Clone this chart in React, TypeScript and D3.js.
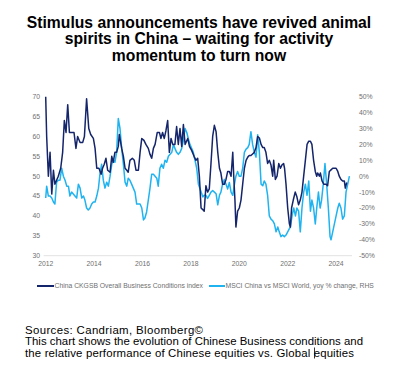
import React from "react";
import * as d3 from "d3";

const titleLines = [
  "Stimulus announcements have revived animal",
  "spirits in China – waiting for activity",
  "momentum to turn now",
];
const footerLines = [
  "Sources: Candriam, Bloomberg©",
  "This chart shows the evolution of Chinese Business conditions and",
  "the relative performance of Chinese equities vs. Global equities",
];
const footerWidths = [178, 338, 329];
const legendLabels = [
  "China CKGSB Overall Business Conditions index",
  "MSCI China vs MSCI World, yoy % change, RHS",
];
const xTickYears = [2012, 2014, 2016, 2018, 2020, 2022, 2024];
const leftTicks = [30, 35, 40, 45, 50, 55, 60, 65, 70];
const rightTicks = [-50, -40, -30, -20, -10, 0, 10, 20, 30, 40, 50];

// China CKGSB index (LHS)
const ckgsbYears = [
  2012.0, 2012.04, 2012.11, 2012.18, 2012.25, 2012.32, 2012.38, 2012.45, 2012.52, 2012.62, 2012.7, 2012.77,
  2012.84, 2012.91, 2012.98, 2013.07, 2013.17, 2013.25, 2013.32, 2013.42, 2013.53, 2013.6, 2013.69, 2013.78,
  2013.86, 2013.97, 2014.04, 2014.11, 2014.2, 2014.29, 2014.35, 2014.42, 2014.49, 2014.56, 2014.66, 2014.73,
  2014.79, 2014.86, 2014.93, 2015.0, 2015.04, 2015.14, 2015.21, 2015.28, 2015.35, 2015.41, 2015.48, 2015.58,
  2015.66, 2015.73, 2015.83, 2015.9, 2015.97, 2016.06, 2016.14, 2016.24, 2016.31, 2016.38, 2016.45, 2016.52,
  2016.61, 2016.7, 2016.76, 2016.83, 2016.9, 2016.97, 2017.04, 2017.11, 2017.18, 2017.25, 2017.34, 2017.41,
  2017.48, 2017.55, 2017.62, 2017.69, 2017.76, 2017.87, 2017.94, 2018.03, 2018.13, 2018.21, 2018.28, 2018.35,
  2018.42, 2018.49, 2018.55, 2018.62, 2018.69, 2018.76, 2018.83, 2018.9, 2018.97, 2019.04, 2019.11, 2019.18,
  2019.24, 2019.31, 2019.38, 2019.45, 2019.52, 2019.59, 2019.66, 2019.73, 2019.77, 2019.82, 2019.86, 2019.93,
  2020.0, 2020.07, 2020.14, 2020.21, 2020.28, 2020.35, 2020.41, 2020.48, 2020.55, 2020.62, 2020.69, 2020.76,
  2020.83, 2020.9, 2020.97, 2021.03, 2021.1, 2021.17, 2021.24, 2021.31, 2021.38, 2021.42, 2021.49, 2021.56,
  2021.63, 2021.7, 2021.76, 2021.83, 2021.87, 2021.93, 2022.0, 2022.07, 2022.11, 2022.16, 2022.23, 2022.31,
  2022.38, 2022.45, 2022.52, 2022.59, 2022.66, 2022.73, 2022.8, 2022.87, 2022.94, 2023.0, 2023.07, 2023.14,
  2023.2, 2023.24, 2023.31, 2023.35, 2023.42, 2023.49, 2023.58, 2023.65, 2023.72, 2023.79, 2023.86, 2023.93,
  2024.0, 2024.07, 2024.13, 2024.2, 2024.27, 2024.34, 2024.38, 2024.44,
];
const ckgsbValues = [
  70, 60, 50, 56, 45.5, 51.5, 48, 49, 50, 52, 56, 64,
  61, 68, 61, 61, 61, 57, 60, 58.5, 58.5, 60, 69.5, 62,
  60.5, 59.5, 57, 52, 52, 50.5, 52, 53, 54.5, 51.5, 51, 55,
  53.5, 56, 56, 57.5, 60.5, 57, 55, 52, 51.5, 51, 54, 54.5,
  54, 51.5, 51.5, 56, 59.5, 59, 58, 57, 55.5, 54.5, 57, 58,
  61, 61, 59.5, 61, 59.5, 61.5, 64, 56, 59.5, 58, 58, 62.5,
  58, 62, 57.5, 63, 58, 59.5, 57.5, 56.5, 55, 54, 54.5, 50,
  42, 41.6, 41.2, 47.6, 46, 46.8, 53.2, 60, 62.8, 61.2, 56, 52,
  50.8, 48, 48, 49.2, 51.2, 51.2, 50, 56, 50, 44, 37.2, 41.2,
  42, 44, 48, 52, 54, 54.8, 55.2, 55.2, 55.6, 56, 57.2, 60,
  59.6, 58, 57.2, 57.2, 56, 53.2, 54, 52.8, 50, 54, 49.2, 50,
  53.2, 52, 52.8, 53.2, 52, 48, 42, 38, 37.2, 42, 44, 46,
  44.8, 42.8, 44, 46, 50, 54, 58, 58.8, 58.8, 58, 54, 51.2,
  50, 50.8, 50, 50.8, 48.8, 48, 48, 47.6, 51.2, 51.6, 52, 52,
  52, 51.2, 50, 49.2, 48.8, 48.8, 47, 48.4,
];

// MSCI China vs MSCI World, yoy % (RHS)
const msciYears = [
  2012.0, 2012.04, 2012.11, 2012.18, 2012.25, 2012.32, 2012.38, 2012.45, 2012.52, 2012.59, 2012.66, 2012.73,
  2012.8, 2012.87, 2012.94, 2013.0, 2013.07, 2013.14, 2013.21, 2013.28, 2013.35, 2013.42, 2013.49, 2013.56,
  2013.62, 2013.69, 2013.76, 2013.83, 2013.9, 2013.97, 2014.04, 2014.11, 2014.18, 2014.24, 2014.31, 2014.38,
  2014.45, 2014.52, 2014.59, 2014.66, 2014.73, 2014.79, 2014.86, 2014.93, 2015.0, 2015.07, 2015.14, 2015.21,
  2015.28, 2015.35, 2015.41, 2015.48, 2015.55, 2015.62, 2015.69, 2015.76, 2015.83, 2015.9, 2015.97, 2016.04,
  2016.1, 2016.17, 2016.24, 2016.31, 2016.38, 2016.45, 2016.52, 2016.59, 2016.65, 2016.72, 2016.79, 2016.86,
  2016.93, 2017.0, 2017.07, 2017.14, 2017.21, 2017.28, 2017.34, 2017.41, 2017.48, 2017.55, 2017.62, 2017.69,
  2017.76, 2017.83, 2017.89, 2017.96, 2018.03, 2018.1, 2018.17, 2018.24, 2018.31, 2018.38, 2018.45, 2018.49,
  2018.55, 2018.62, 2018.69, 2018.76, 2018.83, 2018.9, 2018.97, 2019.04, 2019.11, 2019.18, 2019.24, 2019.31,
  2019.38, 2019.45, 2019.52, 2019.59, 2019.66, 2019.73, 2019.8, 2019.86, 2019.93, 2020.0, 2020.07, 2020.14,
  2020.21, 2020.28, 2020.35, 2020.41, 2020.48, 2020.55, 2020.62, 2020.69, 2020.76, 2020.83, 2020.9, 2020.97,
  2021.03, 2021.1, 2021.17, 2021.24, 2021.31, 2021.38, 2021.45, 2021.52, 2021.59, 2021.65, 2021.72, 2021.79,
  2021.86, 2021.93, 2022.0, 2022.07, 2022.11, 2022.18, 2022.25, 2022.32, 2022.38, 2022.45, 2022.52, 2022.59,
  2022.66, 2022.73, 2022.8, 2022.87, 2022.94, 2023.0, 2023.07, 2023.14, 2023.2, 2023.27, 2023.34, 2023.4,
  2023.47, 2023.54, 2023.61, 2023.68, 2023.75, 2023.79, 2023.86, 2023.93, 2024.0, 2024.07, 2024.13, 2024.2,
  2024.27, 2024.34, 2024.41, 2024.48, 2024.55,
];
const msciValues = [
  -13.75, -6.25, -12.5, -12.5, -13.75, -16.25, -17.5, -3.75, -2.5, -2.5, 5, 0,
  -2.5, -6.25, -6.25, -12.5, -10, -11.25, -12.5, -13.75, -5, -7.5, -13.75, -12.5,
  -15, -20, -21.25, -20, -17.5, -16.25, -16.25, -12.5, -7.5, 1.25, 7.5, -2.5,
  -7.5, -3.75, -6.25, 0, 7.5, 10, 8.75, 15, 36.25, 30, 17.5, 7.5,
  -3.75, -6.25, -1.25, -2.5, -5, -7.5, -10, -17.5, -17.5, -17.5, -20, -27.5,
  -26.25, -22.5, -15, -7.5, 1.25, 1.25, 0, -1.25, -6.25, 5, 7.5, 5,
  10, 8.75, 12.5, 13.75, 15, 20, 17.5, 15, 13.75, 15, 17.5, 22.5,
  30, 27.5, 23.75, 20, 17.5, 15, 10, 5, -5, -8, -11, -13,
  -12, -12, -14, -12, -10, -9, -10, -11, -18, -12, -10, -5,
  -2, -5, -8, -4, -10, -12, -5, 0, 3, 0, 0, 5,
  15, 17, 18, 20, 28, 20, 15, 12, 26, 15, -5, -6,
  -3, -5, -12, -25, -27, -28, -30, -35, -32, -35, -38, -37,
  -38, -37, -35, -33, -32, -25, -20, -25, -20, -22, -35, -20,
  -10, -5, -12, -3, -22, -15, -20, -30, -20, -10, -20, -15,
  -5, 8, -5, -20, -38, -40, -35, -30, -25, -20, -17, -20,
  -27, -25, -10, -5, 0,
];

const W = 396;
const H = 375;
const plotLeft = 45.7;
const plotTop = 96.7;
const plotBottom = 255.7;

export default function App() {
  const x = d3.scaleLinear().domain([2012, 2024]).range([plotLeft, plotLeft + 12 * 24.2]);
  const yL = d3.scaleLinear().domain([30, 70]).range([plotBottom, plotTop]);
  const yR = d3.scaleLinear().domain([-50, 50]).range([plotBottom, plotTop]);

  const ckgsb = ckgsbYears.map((t, i) => [t, ckgsbValues[i]] as [number, number]);
  const msci = msciYears.map((t, i) => [t, msciValues[i]] as [number, number]);

  const lineL = d3.line<[number, number]>().x((d) => x(d[0])).y((d) => yL(d[1]));
  const lineR = d3.line<[number, number]>().x((d) => x(d[0])).y((d) => yR(d[1]));

  const dark = "#14256b";
  const light = "#1fb3f0";
  const grey = "#6f6f6f";
  const font = "Liberation Sans, Arial, sans-serif";

  return (
    <svg
      width={W}
      height={H}
      style={{ position: "absolute", left: 0, top: 0, background: "#fff" }}
      fontFamily={font}
    >
      <rect x={0} y={0} width={W} height={H} fill="#fff" />
      {titleLines.map((t, i) => (
        <text
          key={t}
          x={199}
          y={27.5 + i * 16.8}
          textAnchor="middle"
          fontSize={15.7}
          fontWeight="bold"
          fill="#000"
        >
          {t}
        </text>
      ))}

      {/* x axis line */}
      <line x1={plotLeft - 2} x2={352} y1={plotBottom} y2={plotBottom} stroke="#d9d9d9" strokeWidth={0.8} />

      {leftTicks.map((v) => (
        <text key={"l" + v} x={40} y={yL(v) + 2.4} textAnchor="end" fontSize={6.8} fill={grey}>
          {v}
        </text>
      ))}
      {rightTicks.map((v) => (
        <text key={"r" + v} x={359} y={yR(v) + 2.4} textAnchor="start" fontSize={6.8} fill={grey}>
          {v + "%"}
        </text>
      ))}
      {xTickYears.map((yr) => (
        <text key={"x" + yr} x={x(yr)} y={266} textAnchor="middle" fontSize={6.8} fill={grey}>
          {yr}
        </text>
      ))}

      <path d={lineR(msci) || ""} fill="none" stroke={light} strokeWidth={1.5} strokeLinejoin="round" />
      <path d={lineL(ckgsb) || ""} fill="none" stroke={dark} strokeWidth={1.5} strokeLinejoin="round" />

      {/* legend */}
      <line x1={37} x2={54} y1={286} y2={286} stroke={dark} strokeWidth={2} />
      <text x={54.5} y={288.3} fontSize={6.8} fill={grey}>
        {legendLabels[0]}
      </text>
      <line x1={209} x2={225} y1={286} y2={286} stroke={light} strokeWidth={2} />
      <text x={225.5} y={288.3} fontSize={6.8} fill={grey}>
        {legendLabels[1]}
      </text>

      {footerLines.map((t, i) => (
        <text
          key={t}
          x={25}
          y={333.5 + i * 11.6}
          fontSize={11.4}
          fill="#000"
          textLength={footerWidths[i]}
          lengthAdjust="spacing"
        >
          {t}
        </text>
      ))}
      {/* text caret seen in the source */}
      <line x1={314.5} x2={314.5} y1={347.5} y2={358.5} stroke="#000" strokeWidth={0.8} />
    </svg>
  );
}
